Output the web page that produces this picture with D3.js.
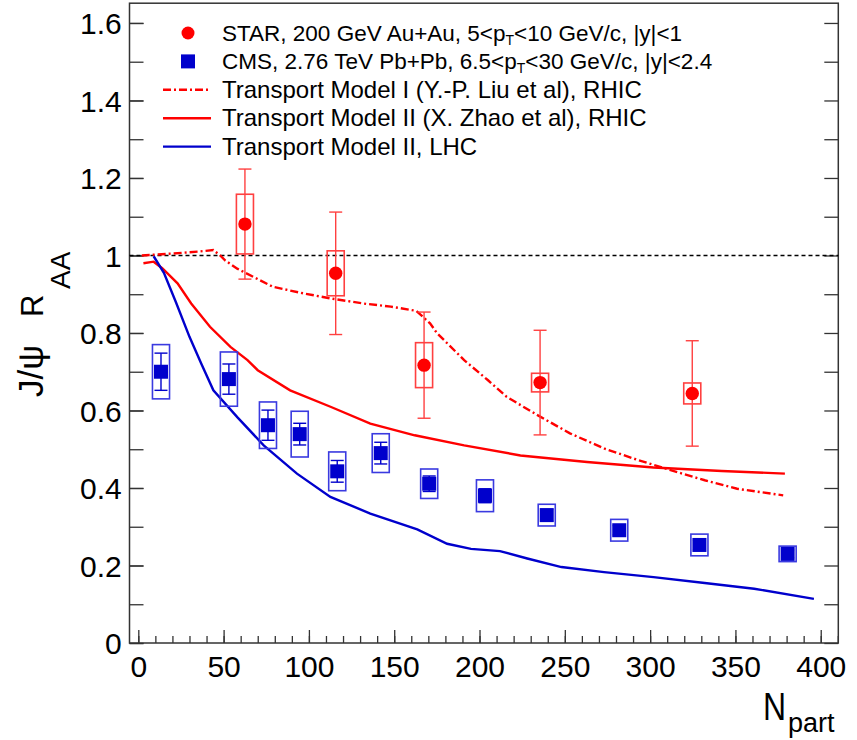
<!DOCTYPE html>
<html lang="en">
<head>
<meta charset="utf-8">
<script src="https://cdnjs.cloudflare.com/ajax/libs/d3/7.8.5/d3.min.js"></script>
<style>
body { margin: 0; background: #fff; }
svg text { font-family: "Liberation Sans", Arial, Helvetica, sans-serif; fill: #000; }
</style>
</head>
<body>
<script>

///////// data

// STAR, 200 GeV Au+Au
var starNpart = [62.5, 115.7, 167.5, 235.5, 324.7];
var starRaa   = [1.081, 0.954, 0.717, 0.672, 0.644];
var starStat  = [0.142, 0.158, 0.137, 0.135, 0.136];
var starSys   = [0.077, 0.058, 0.058, 0.024, 0.027];

// CMS, 2.76 TeV Pb+Pb
var cmsNpart = [13.3, 53.1, 76.0, 94.6, 116.6, 142.1, 170.5, 203.2, 239.4, 281.9, 328.9, 380.6];
var cmsRaa   = [0.700, 0.681, 0.562, 0.539, 0.443, 0.490, 0.411, 0.380, 0.330, 0.291, 0.253, 0.230];
var cmsStat  = [0.048, 0.039, 0.039, 0.028, 0.028, 0.028, 0.020, 0.018, 0.015, 0.012, 0.012, 0.010];
var cmsSys   = [0.070, 0.070, 0.060, 0.059, 0.050, 0.050, 0.038, 0.041, 0.028, 0.028, 0.028, 0.020];

// Transport Model I (Y.-P. Liu et al), RHIC
var model1Npart = [2, 20, 35, 44, 48, 51, 58, 62, 79, 97, 113, 132, 148, 163, 171, 175, 191, 205, 216, 234, 253, 273, 293, 312, 332, 351, 378];
var model1Raa   = [1.0, 1.005, 1.01, 1.014, 1.0, 0.987, 0.966, 0.957, 0.919, 0.902, 0.889, 0.876, 0.868, 0.857, 0.825, 0.80, 0.73, 0.678, 0.635, 0.588, 0.541, 0.502, 0.472, 0.446, 0.420, 0.398, 0.381];

// Transport Model II (X. Zhao et al), RHIC
var model2Npart = [3, 9, 14, 23, 31, 42, 54, 64, 70, 89, 113, 136, 162, 191, 224, 263, 302, 342, 379];
var model2Raa   = [0.98, 0.984, 0.967, 0.928, 0.876, 0.816, 0.764, 0.730, 0.704, 0.652, 0.609, 0.566, 0.536, 0.510, 0.484, 0.467, 0.453, 0.444, 0.437];

// Transport Model II, LHC
var model3Npart = [9, 15, 22, 30, 37, 44, 58, 73.5, 93, 112.6, 136, 163.5, 181, 195, 212, 228, 248, 273, 302, 332, 361, 396];
var model3Raa   = [0.998, 0.955, 0.88, 0.79, 0.72, 0.652, 0.583, 0.510, 0.437, 0.377, 0.334, 0.293, 0.256, 0.243, 0.237, 0.218, 0.196, 0.183, 0.170, 0.155, 0.140, 0.114];

var xTicks = [0, 50, 100, 150, 200, 250, 300, 350, 400];
var yTicks = [0, 0.2, 0.4, 0.6, 0.8, 1, 1.2, 1.4, 1.6];
var yTickLabels = ["0", "0.2", "0.4", "0.6", "0.8", "1", "1.2", "1.4", "1.6"];

var legendLabels = [
  [["STAR, 200 GeV Au+Au, 5<p", 0], ["T", 1], ["<10 GeV/c, |y|<1", 0]],
  [["CMS, 2.76 TeV Pb+Pb, 6.5<p", 0], ["T", 1], ["<30 GeV/c, |y|<2.4", 0]],
  [["Transport Model I (Y.-P. Liu et al), RHIC", 0]],
  [["Transport Model II (X. Zhao et al), RHIC", 0]],
  [["Transport Model II, LHC", 0]]
];

///////// layout

var W = 857, H = 740;
var red = "#ff0000", redLight = "#ff4040", blue = "#0000cc", blueLight = "#3a3ae0";

var x = d3.scaleLinear().domain([-5.16, 410.3]).range([129.5, 838.3]);
var y = d3.scaleLinear().domain([0, 1.651]).range([643, 3.2]);

var svg = d3.select("body").append("svg")
    .attr("width", W)
    .attr("height", H);

svg.append("rect").attr("width", W).attr("height", H).attr("fill", "#fff");

function styleAxis(g, size) {
  g.select(".domain").remove();
  g.attr("font-family", null).attr("font-size", size);
  g.selectAll(".tick line").attr("stroke", "#333").attr("stroke-width", 1.3);
}

// x axis: minor every 10, major every 50
svg.append("g")
    .attr("transform", "translate(0," + y(0) + ")")
    .call(d3.axisBottom(x).tickValues(d3.range(0, 411, 10)).tickSize(-7).tickFormat(""))
    .call(styleAxis, 30);

svg.append("g")
    .attr("transform", "translate(0," + y(0) + ")")
    .call(d3.axisBottom(x).tickValues(xTicks).tickSize(-13).tickPadding(12.7).tickFormat(d3.format("d")))
    .call(styleAxis, 30);

// y axis left + right
var yMinor = d3.range(0, 17).map(function(i) { return i / 10; });
svg.append("g")
    .attr("transform", "translate(" + x.range()[0] + ",0)")
    .call(d3.axisLeft(y).tickValues(yMinor).tickSize(-14).tickFormat(""))
    .call(styleAxis, 30);

svg.append("g")
    .attr("transform", "translate(" + x.range()[0] + ",0)")
    .call(d3.axisLeft(y).tickValues(yTicks).tickSize(-14).tickPadding(7.8)
      .tickFormat(function(d, i) { return yTickLabels[i]; }))
    .call(styleAxis, 30)
    .selectAll("text").attr("dy", "0.36em");

svg.append("g")
    .attr("transform", "translate(" + x.range()[1] + ",0)")
    .call(d3.axisRight(y).tickValues(yMinor).tickSize(-14).tickFormat(""))
    .call(styleAxis, 30);

// frame
svg.append("rect")
    .attr("x", x.range()[0])
    .attr("y", y.range()[1])
    .attr("width", x.range()[1] - x.range()[0])
    .attr("height", y.range()[0] - y.range()[1])
    .attr("fill", "none")
    .attr("stroke", "#333")
    .attr("stroke-width", 1.5);

// axis titles
var yt = svg.append("g").attr("transform", "translate(43,397) rotate(-90)");
yt.append("text").attr("x", 0).attr("y", 0).attr("font-size", 35).text("J/\u03c8");
yt.append("text").attr("x", 80).attr("y", 0).attr("font-size", 31).text("R");
yt.append("text").attr("x", 108).attr("y", 27).attr("font-size", 28).text("AA");

svg.append("text")
    .attr("transform", "translate(763,720) scale(0.82,1)")
    .attr("font-size", 39)
    .text("N");
svg.append("text")
    .attr("x", 788).attr("y", 731.5)
    .attr("font-size", 27)
    .text("part");

// unity line
svg.append("line")
    .attr("x1", x.range()[0]).attr("x2", x.range()[1])
    .attr("y1", y(1)).attr("y2", y(1))
    .attr("stroke", "#000")
    .attr("stroke-width", 1.3)
    .attr("stroke-dasharray", "4,3");

// model curves
var line = d3.line()
    .x(function(d) { return x(d[0]); })
    .y(function(d) { return y(d[1]); });

svg.append("path")
    .datum(d3.zip(model1Npart, model1Raa))
    .attr("d", line)
    .attr("fill", "none").attr("stroke", red).attr("stroke-width", 2.4)
    .attr("stroke-dasharray", "8,3,2,3");

svg.append("path")
    .datum(d3.zip(model2Npart, model2Raa))
    .attr("d", line)
    .attr("fill", "none").attr("stroke", red).attr("stroke-width", 2.4);

svg.append("path")
    .datum(d3.zip(model3Npart, model3Raa))
    .attr("d", line)
    .attr("fill", "none").attr("stroke", blue).attr("stroke-width", 2.4);

// data with stat. bars and sys. boxes
var boxHalf = 5;
function drawSet(np, val, stat, sys, boxColor, barColor) {
  var g = svg.append("g");
  np.forEach(function(n, i) {
    g.append("rect")
        .attr("x", x(n - boxHalf))
        .attr("width", x(n + boxHalf) - x(n - boxHalf))
        .attr("y", y(val[i] + sys[i]))
        .attr("height", y(val[i] - sys[i]) - y(val[i] + sys[i]))
        .attr("fill", "none")
        .attr("stroke", boxColor)
        .attr("stroke-width", 1.6);
    g.append("line")
        .attr("x1", x(n)).attr("x2", x(n))
        .attr("y1", y(val[i] - stat[i])).attr("y2", y(val[i] + stat[i]))
        .attr("stroke", barColor).attr("stroke-width", 1.4);
    [val[i] - stat[i], val[i] + stat[i]].forEach(function(v) {
      g.append("line")
          .attr("x1", x(n) - 6.5).attr("x2", x(n) + 6.5)
          .attr("y1", y(v)).attr("y2", y(v))
          .attr("stroke", barColor).attr("stroke-width", 1.4);
    });
  });
  return g;
}

drawSet(starNpart, starRaa, starStat, starSys, redLight, redLight)
  .selectAll("circle.m")
  .data(d3.zip(starNpart, starRaa))
  .enter().append("circle")
    .attr("cx", function(d) { return x(d[0]); })
    .attr("cy", function(d) { return y(d[1]); })
    .attr("r", 6.7)
    .attr("fill", red);

drawSet(cmsNpart, cmsRaa, cmsStat, cmsSys, blueLight, blue)
  .selectAll("rect.m")
  .data(d3.zip(cmsNpart, cmsRaa))
  .enter().append("rect")
    .attr("x", function(d) { return x(d[0]) - 7; })
    .attr("y", function(d) { return y(d[1]) - 7; })
    .attr("width", 14).attr("height", 14)
    .attr("fill", blue);

// legend
var legX = 188, legY0 = 33, legStep = 28.4, legTextX = 222;
var leg = svg.append("g");
leg.append("circle").attr("cx", legX).attr("cy", legY0).attr("r", 6.5).attr("fill", red);
leg.append("rect").attr("x", legX - 7).attr("y", legY0 + legStep - 7)
    .attr("width", 14).attr("height", 14).attr("fill", blue);
[["8,3,2,3", red], [null, red], [null, blue]].forEach(function(s, i) {
  var ly = legY0 + legStep * (i + 2);
  leg.append("line")
      .attr("x1", legX - 25).attr("x2", legX + 23)
      .attr("y1", ly).attr("y2", ly)
      .attr("stroke", s[1]).attr("stroke-width", 2.4)
      .attr("stroke-dasharray", s[0]);
});
legendLabels.forEach(function(parts, i) {
  var t = leg.append("text")
      .attr("x", legTextX)
      .attr("y", legY0 + legStep * i + 8)
      .attr("font-size", i < 2 ? 22.5 : 24);
  parts.forEach(function(p, j) {
    var ts = t.append("tspan").text(p[0]);
    if (p[1]) ts.attr("font-size", 14).attr("dy", 3.5);
    else if (j > 0 && parts[j - 1][1]) ts.attr("dy", -3.5);
  });
});

</script>
</body>
</html>
